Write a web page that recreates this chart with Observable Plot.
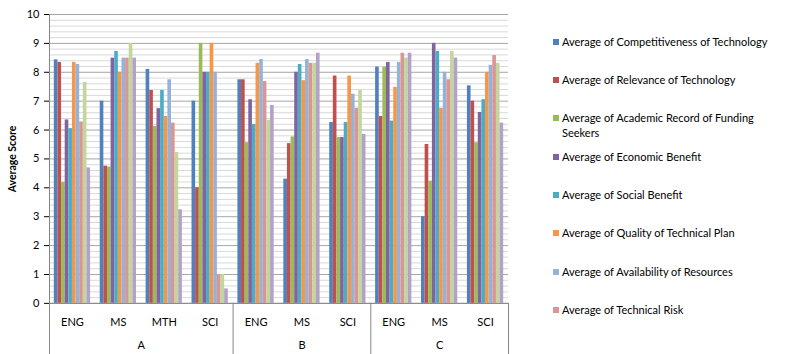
<!DOCTYPE html>
<html>
<head>
<meta charset="utf-8">
<script src="https://cdn.jsdelivr.net/npm/d3@7"></script>
<script src="https://cdn.jsdelivr.net/npm/@observablehq/plot@0.6"></script>
<style>
  html, body { margin: 0; padding: 0; background: #fff; }
  #chart { position: relative; width: 793px; height: 354px; font-family: Lato, "Open Sans", sans-serif; }
  #legend { position: absolute; left: 553px; top: 0; width: 236px; }
  .item { position: absolute; left: 0; display: flex; align-items: flex-start; font-size: 11px; line-height: 14.4px; color: #000; }
  .sw { width: 6px; height: 6px; margin-top: 4px; margin-right: 3px; flex: none; }
  .lab { width: 218px; }
</style>
</head>
<body>
<div id="chart"><div id="legend"></div></div>
<script>
// Category axis: subject within school
const subjects = ["ENG", "MS", "MTH", "SCI", "ENG", "MS", "SCI", "ENG", "MS", "SCI"];
const schools  = ["A", "A", "A", "A", "B", "B", "B", "C", "C", "C"];

const seriesNames = [
  "Average of Competitiveness of Technology",
  "Average of Relevance of Technology",
  "Average of Academic Record of Funding Seekers",
  "Average of Economic Benefit",
  "Average of Social Benefit",
  "Average of Quality of Technical Plan",
  "Average of Availability of Resources",
  "Average of Technical Risk",
  "Average of Criterion 9",
  "Average of Criterion 10"
];
const seriesColors = ["#4F81BD", "#C0504D", "#9BBB59", "#8064A2", "#4BACC6",
                      "#F79646", "#95B3D7", "#D99694", "#C3D69B", "#B3A2C7"];

// Average scores, one value per subject column above
const competitiveness = [8.43, 7.00, 8.10, 7.00, 7.74, 4.30, 6.26, 8.18, 3.00, 7.53];
const relevance       = [8.34, 4.75, 7.37, 4.00, 7.74, 5.53, 7.87, 6.47, 5.50, 7.00];
const academicRecord  = [4.19, 4.72, 6.12, 9.00, 5.56, 5.76, 5.74, 8.18, 4.23, 5.56];
const economicBenefit = [6.35, 8.49, 6.74, 8.00, 7.05, 8.00, 5.74, 8.34, 9.00, 6.61];
const socialBenefit   = [6.05, 8.72, 7.37, 8.00, 6.19, 8.27, 6.26, 6.31, 8.72, 7.05];
const technicalPlan   = [8.34, 8.00, 6.47, 9.00, 8.31, 7.71, 7.87, 7.48, 6.75, 8.00];
const resources       = [8.27, 8.49, 7.74, 8.00, 8.44, 8.44, 7.24, 8.34, 8.00, 8.24];
const technicalRisk   = [6.28, 8.49, 6.24, 1.00, 7.68, 8.31, 6.75, 8.66, 7.74, 8.58];
const criterion9      = [7.65, 9.00, 5.22, 1.00, 6.34, 8.31, 7.37, 8.49, 8.72, 8.31];
const criterion10     = [4.69, 8.49, 3.24, 0.50, 6.85, 8.66, 5.85, 8.66, 8.49, 6.24];

const seriesValues = [competitiveness, relevance, academicRecord, economicBenefit, socialBenefit,
                      technicalPlan, resources, technicalRisk, criterion9, criterion10];

const yTicks = d3.range(0, 11);            // labelled integer ticks
const minorTicks = d3.range(0, 50).map(i => i / 5).filter(v => !Number.isInteger(v));

// Long table: one row per bar
const nCat = subjects.length;
const nSer = seriesNames.length;
const barW = 0.079;                         // bar width in category units
const pad = (1 - nSer * barW) / 2;
const rows = [];
seriesValues.forEach((vals, j) => vals.forEach((v, i) => rows.push({i, j, series: seriesNames[j], value: v})));

// School spans for the second label row and the separators
const schoolSpans = [];
schools.forEach((s, i) => {
  const last = schoolSpans[schoolSpans.length - 1];
  if (last && last.name === s) last.count++;
  else schoolSpans.push({name: s, start: i, count: 1});
});
const schoolEdges = [0, ...schoolSpans.map(g => g.start + g.count)];

const yLow = -1.77;                         // room under the axis for the category table
const axisGrey = "#868686";

const chart = Plot.plot({
  width: 793,
  height: 354,
  marginLeft: 49,
  marginRight: 285,
  marginTop: 14,
  marginBottom: 0,
  x: {domain: [0, nCat], axis: null},
  y: {domain: [yLow, 10], ticks: yTicks, tickSize: 5, tickPadding: 5, label: null},
  color: {domain: seriesNames, range: seriesColors},
  style: {fontFamily: "Lato, 'Open Sans', sans-serif", fontSize: "11px", color: "#000", background: "#fff"},
  marks: [
    Plot.ruleY(minorTicks, {x1: 0, x2: nCat, stroke: "#d9d9d9"}),
    Plot.ruleY(yTicks, {x1: 0, x2: nCat, stroke: "#a6a6a6"}),
    Plot.rectY(rows, {
      x1: d => d.i + pad + d.j * barW,
      x2: d => d.i + pad + (d.j + 1) * barW,
      y1: 0,
      y2: "value",
      fill: "series"
    }),
    Plot.ruleY([0], {x1: 0, x2: nCat, stroke: axisGrey}),
    Plot.ruleX([0], {y1: yLow, y2: 10, stroke: axisGrey}),
    Plot.ruleX(schoolEdges.slice(1), {y1: yLow, y2: 0, stroke: axisGrey}),
    Plot.text(subjects, {x: (d, i) => i + 0.5, y: -0.65, text: d => d, fontSize: 11, fill: "#000"}),
    Plot.text(schoolSpans, {x: d => d.start + d.count / 2, y: -1.45, text: "name", fontSize: 11, fill: "#000"}),
    Plot.text(["Average Score"], {x: -0.8, y: 5, text: d => d, rotate: -90, fontWeight: "bold", fontSize: 10.5, fill: "#000"})
  ]
});
document.getElementById("chart").prepend(chart);

// Legend box: room for the first eight entries
const legend = document.getElementById("legend");
const legendCount = 8;
const rowTop = 41.7, rowStep = 38.35;
seriesNames.slice(0, legendCount).forEach((name, k) => {
  const item = document.createElement("div");
  item.className = "item";
  item.style.top = (rowTop + k * rowStep - 7.2) + "px";
  const sw = document.createElement("span");
  sw.className = "sw";
  sw.style.background = seriesColors[k];
  const lab = document.createElement("span");
  lab.className = "lab";
  lab.textContent = name;
  item.append(sw, lab);
  legend.append(item);
});
</script>
</body>
</html>
